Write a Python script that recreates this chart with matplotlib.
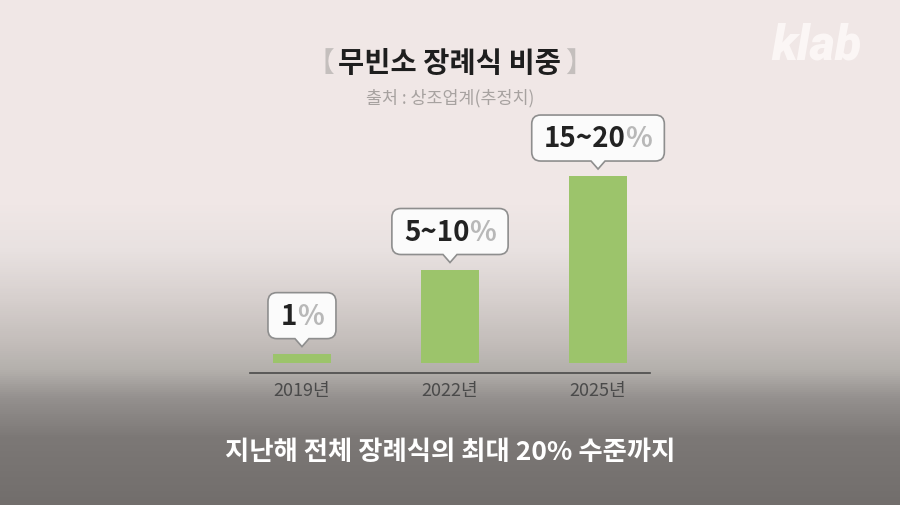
import matplotlib
matplotlib.use('Agg')
import matplotlib.pyplot as plt
import numpy as np
from matplotlib.path import Path
from matplotlib.patches import PathPatch
from matplotlib.colors import LinearSegmentedColormap
from matplotlib.transforms import Affine2D

plt.rcParams['font.family'] = ['Noto Sans CJK KR', 'DejaVu Sans']

# data
years = ['2019년', '2022년', '2025년']
shares = [1, 10, 20]                  # upper end of each range (%)
share_labels = ['1', '5~10', '15~20']

title = '무빈소 장례식 비중'
source = '출처 : 상조업계(추정치)'
caption = '지난해 전체 장례식의 최대 20% 수준까지'

W, H = 900, 506
fig = plt.figure(figsize=(W / 100, H / 100), dpi=100)

# background: pale pink on top, fading to grey at the bottom
stops = [(0, (240, 231, 230)), (205, (240, 231, 230)), (250, (233, 226, 225)),
         (300, (215, 208, 206)), (340, (197, 191, 188)), (372, (180, 176, 172)),
         (400, (148, 144, 142)), (440, (124, 120, 118)), (506, (114, 110, 108))]
cmap = LinearSegmentedColormap.from_list(
    'bg', [(y / H, tuple(c / 255 for c in rgb)) for y, rgb in stops])
bg = fig.add_axes([0, 0, 1, 1])
bg.axis('off')
bg.imshow(np.linspace(0, 1, H).reshape(-1, 1), aspect='auto', cmap=cmap,
          extent=(0, 1, 0, 1), vmin=0, vmax=1)

# chart area
ax = fig.add_axes([250 / W, 1 - 374 / H, 400 / W, 274 / H])
ax.patch.set_alpha(0)
x = np.arange(len(years))
ax.bar(x, shares, width=0.392, color='#9cc46b', zorder=2)
ax.set_xlim(-0.351, 2.351)
ax.set_ylim(-1.07, 28.24)
for s in ['top', 'left', 'right']:
    ax.spines[s].set_visible(False)
ax.spines['bottom'].set_color('#4a4a4a')
ax.spines['bottom'].set_linewidth(1.2)
ax.set_yticks([])
ax.set_xticks(x)
ax.set_xticklabels(years, fontsize=13, color='#4a4a4a')
ax.tick_params(axis='x', length=0, pad=6)


def bubble_path(w, h=46, r=9, b=15, tip=7, tw=7):
    l, rr, t = -w / 2, w / 2, b + h
    verts = [(l + r, b), (-tw, b), (0, tip), (tw, b), (rr - r, b),
             (rr, b), (rr, b + r), (rr, t - r),
             (rr, t), (rr - r, t), (l + r, t),
             (l, t), (l, t - r), (l, b + r),
             (l, b), (l + r, b), (l + r, b)]
    codes = [Path.MOVETO, Path.LINETO, Path.LINETO, Path.LINETO, Path.LINETO,
             Path.CURVE3, Path.CURVE3, Path.LINETO,
             Path.CURVE3, Path.CURVE3, Path.LINETO,
             Path.CURVE3, Path.CURVE3, Path.LINETO,
             Path.CURVE3, Path.CURVE3, Path.CLOSEPOLY]
    return Path(verts, codes)


renderer = fig.canvas.get_renderer()
for i, (val, lab) in enumerate(zip(shares, share_labels)):
    num = ax.annotate(lab, xy=(i, val), xytext=(0, 38), textcoords='offset pixels',
                      ha='center', va='center', fontsize=20, fontweight='bold',
                      color='#222222', zorder=5, annotation_clip=False)
    pct = ax.annotate('%', xy=(1, 0.5), xycoords=num, xytext=(0, 0),
                      textcoords='offset pixels', ha='left', va='center',
                      fontsize=20, fontweight='bold', color='#b8b8b8', zorder=5)
    wn = num.get_window_extent(renderer).width
    wp = pct.get_window_extent(renderer).width
    num.xyann = (-wp / 2, 38)
    px, py = ax.transData.transform((i, val))
    bw = max(wn + wp + 24, 68)
    ax.add_artist(PathPatch(bubble_path(bw), transform=Affine2D().translate(px, py),
                            facecolor='#fbfbfb', edgecolor='#8e8e8e', lw=1.2,
                            clip_on=False, zorder=4))

# titles
tt = fig.text(0.5, 1 - 64 / H, title, ha='center', va='center', fontsize=20.5,
              fontweight='bold', color='#1e1e1e')
ax.annotate('【', xy=(0, 0.5), xycoords=tt, xytext=(-4, 0), textcoords='offset pixels',
            ha='right', va='center', fontsize=20, color='#c4bfbd')
ax.annotate('】', xy=(1, 0.5), xycoords=tt, xytext=(4, 0), textcoords='offset pixels',
            ha='left', va='center', fontsize=20, color='#c4bfbd')
fig.text(0.5, 1 - 98 / H, source, ha='center', va='center', fontsize=12.5,
         color='#a7a2a0')

# watermark
fig.text(816 / W, 1 - 46 / H, 'klab', ha='center', va='center', fontsize=35,
         family=['Roboto', 'DejaVu Sans'], fontweight='black', fontstyle='italic',
         color='#fdf9f8', alpha=0.85)

# subtitle caption
fig.text(0.5, 1 - 453 / H, caption, ha='center', va='center', fontsize=19,
         fontweight='bold', color='white')

fig.savefig('out.png', dpi=100)
